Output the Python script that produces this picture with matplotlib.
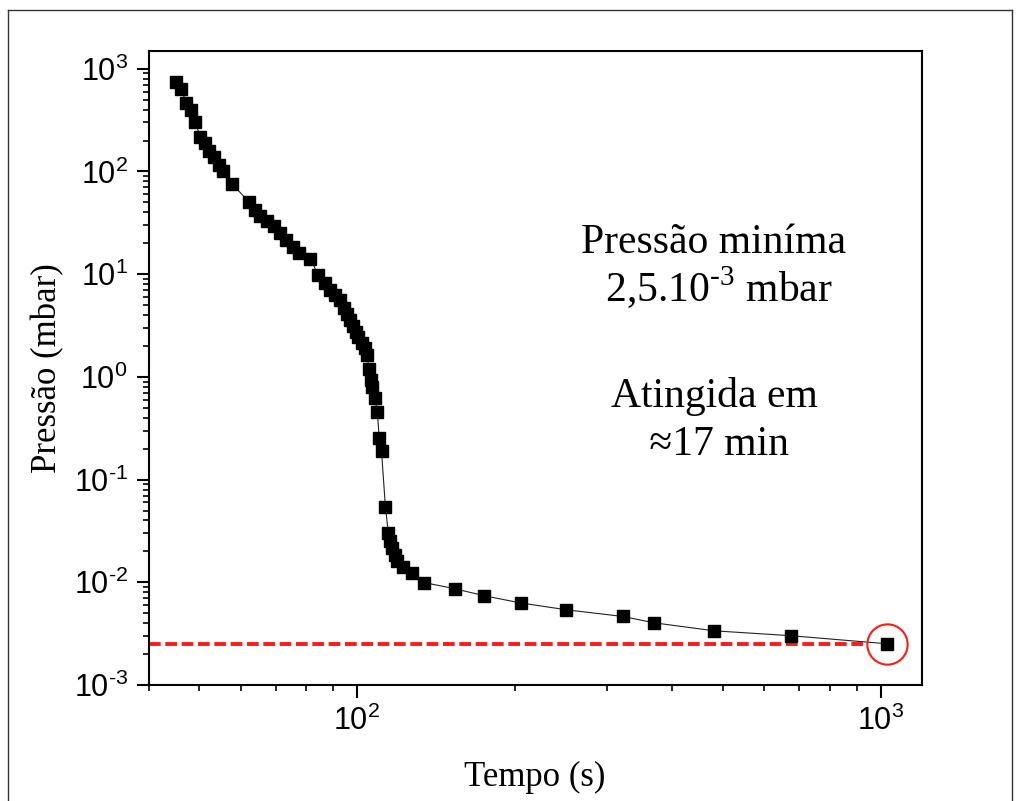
import numpy as np
import matplotlib
matplotlib.use("Agg")
import matplotlib.pyplot as plt
from matplotlib.lines import Line2D
from matplotlib.ticker import FuncFormatter, LogLocator, NullFormatter

plt.rcParams['font.family'] = ['Liberation Sans', 'DejaVu Sans']
plt.rcParams['mathtext.fontset'] = 'custom'
plt.rcParams['mathtext.rm'] = 'Liberation Serif'
plt.rcParams['mathtext.sf'] = 'Liberation Sans'

# tempo (s) e pressao (mbar)
tempo = [45.2, 46.2, 47.2, 48.2, 49.1, 50.2, 51.2, 52.1, 53.3, 54.5,
         55.5, 57.7, 62.1, 63.8, 65.4, 67.3, 69.3, 71.3, 73.1, 75.6,
         77.5, 81.4, 84.4, 86.9, 88.8, 90.8, 92.8, 94.3, 95.6, 97.1,
         98.4, 99.4, 100.6, 102.1, 103.6, 104.6, 105.4, 106.3, 106.9, 108.1,
         109.3, 110.3, 111.4, 113.3, 114.8, 115.6, 116.7, 118.0, 119.5, 122.2,
         127.1, 134.3, 153.9, 175.0, 205.3, 251.3, 321.8, 370.0, 481.4, 674.5,
         1030.0]
pressao = [736, 634, 463, 399, 303, 216, 189, 160, 138, 116,
           100, 75.9, 51.0, 42.4, 37.0, 33.1, 29.6, 25.1, 21.6, 18.6,
           16.05, 14.0, 9.86, 8.19, 7.05, 6.30, 5.63, 4.71, 4.12, 3.60,
           3.15, 2.75, 2.45, 2.15, 1.92, 1.64, 1.19, 0.937, 0.80, 0.625,
           0.46, 0.254, 0.188, 0.0547, 0.0301, 0.0254, 0.0217, 0.0186, 0.0163, 0.0142,
           0.0123, 0.00995, 0.00865, 0.0074, 0.0063, 0.0054, 0.00465, 0.00403, 0.00337, 0.00302,
           0.00252]
p_min = 2.5e-3
t_min = 1030.0
linha_fim = 945.0

fig = plt.figure(figsize=(10.21, 8.01), dpi=100)
ax = fig.add_axes([0.1456, 0.1448, 0.7574, 0.7919])

ax.plot([40, linha_fim], [p_min, p_min], linestyle='--', color='#ff1a1a', lw=2.8,
        dashes=(3.0, 1.2), zorder=2)
ax.plot(tempo, pressao, color='#222222', lw=0.8, marker='s', markersize=8.3,
        markerfacecolor='black', markeredgecolor='black', zorder=3)
ax.plot([t_min], [pressao[-1]], marker='o', markersize=29, markerfacecolor='none',
        markeredgecolor='#ff1a1a', markeredgewidth=1.5, linestyle='none', zorder=4)

ax.set_xscale('log')
ax.set_yscale('log')
ax.set_xlim(40, 1200)
ax.set_ylim(1e-3, 1.5e3)


def expo(v, p):
    e = int(round(np.log10(v)))
    s = str(e).replace('-', '\u2010')
    return r'$\mathsf{10^{%s}}$' % s


fmt = FuncFormatter(expo)
ax.xaxis.set_major_locator(LogLocator(base=10, numticks=10))
ax.yaxis.set_major_locator(LogLocator(base=10, numticks=10))
ax.xaxis.set_minor_locator(LogLocator(base=10, subs=np.arange(2, 10), numticks=20))
ax.yaxis.set_minor_locator(LogLocator(base=10, subs=np.arange(2, 10), numticks=20))
ax.xaxis.set_major_formatter(fmt)
ax.yaxis.set_major_formatter(fmt)
ax.xaxis.set_minor_formatter(NullFormatter())
ax.yaxis.set_minor_formatter(NullFormatter())

ax.tick_params(which='major', direction='out', length=9, width=1.5, labelsize=22, pad=6)
ax.tick_params(which='minor', direction='out', length=4.5, width=1.2)
ax.tick_params(top=False, right=False, which='both')
for s in ax.spines.values():
    s.set_linewidth(1.5)

serif = ['Liberation Serif', 'DejaVu Serif']
fig.text(0.047, 0.5406, 'Pressão (mbar)', rotation=90, ha='center', va='center',
         fontsize=25, family=serif)
fig.text(0.524, 0.029, 'Tempo (s)', ha='center', va='center', fontsize=25, family=serif)

linhas = ['Pressão miníma', ' 2,5.10$^{\\mathrm{\u20103}}$ mbar', 'Atingida em', ' ≈17 min']
bases = [253, 302, 407, 455]
for txt, yb in zip(linhas, bases):
    fig.text(714 / 1021, 1 - yb / 801, txt, ha='center', va='baseline',
             fontsize=30, family=serif)

# moldura externa da figura
x0, x1, y0 = 8 / 1021, 1012 / 1021, 1 - 10 / 801
for xs, ys in [([x0, x0], [0, y0]), ([x0, x1], [y0, y0]), ([x1, x1], [y0, 0])]:
    fig.add_artist(Line2D(xs, ys, transform=fig.transFigure, color='#333333', lw=1.0))

fig.savefig('out.png', dpi=100)
